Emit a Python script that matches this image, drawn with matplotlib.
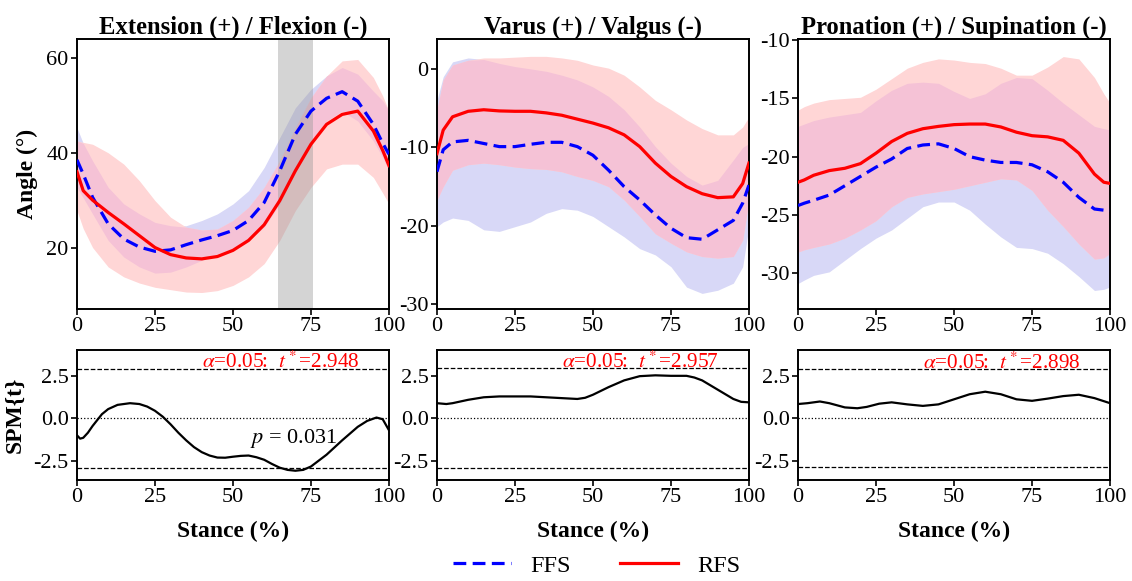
import numpy as np
import matplotlib
matplotlib.use("Agg")
import matplotlib.pyplot as plt
from matplotlib.lines import Line2D

plt.rcParams['font.family'] = ['Liberation Serif', 'DejaVu Serif']
plt.rcParams['mathtext.fontset'] = 'stix'
plt.rcParams['axes.linewidth'] = 1.4
plt.rcParams['axes.unicode_minus'] = False

# stance (%) sample points for the kinematic curves
stance = [0, 2, 5, 10, 15, 20, 25, 30, 35, 40, 45, 50, 55, 60, 65, 70, 75, 80, 85, 90, 95, 98, 100]

# Extension / Flexion
ext_ffs = [38.5, 35.5, 30.6, 25.0, 21.8, 20.1, 19.2, 19.5, 20.6, 21.6, 22.5, 23.6, 25.7, 29.5, 36.2, 43.9, 48.8, 51.5, 52.9, 50.9, 46.0, 42.0, 39.7]
ext_ffs_hi = [45.3, 42.0, 38.3, 32.7, 29.2, 27.1, 25.3, 24.6, 24.6, 25.7, 27.1, 29.2, 32.0, 36.9, 43.2, 49.5, 53.4, 56.2, 58.0, 56.6, 53.0, 51.0, 48.8]
ext_ffs_lo = [32.7, 30.5, 27.1, 21.5, 18.0, 15.9, 14.6, 14.8, 15.9, 17.3, 18.7, 19.7, 21.5, 24.3, 29.2, 36.2, 42.5, 46.7, 48.8, 46.7, 42.5, 39.0, 36.2]
ext_rfs = [36.0, 32.0, 30.0, 27.4, 25.0, 22.5, 20.0, 18.5, 17.8, 17.6, 18.1, 19.4, 21.5, 24.8, 29.9, 36.2, 41.8, 46.0, 48.1, 48.8, 44.6, 40.5, 37.3]
ext_rfs_hi = [42.5, 42.2, 41.8, 40.0, 37.6, 34.1, 29.9, 26.4, 24.3, 23.7, 23.9, 25.7, 28.5, 32.7, 38.3, 45.3, 51.6, 56.2, 59.4, 59.7, 55.9, 52.0, 48.8]
ext_rfs_lo = [27.8, 24.0, 20.0, 15.9, 13.8, 12.5, 11.6, 11.1, 10.6, 10.5, 10.9, 12.0, 13.8, 16.6, 21.5, 27.8, 32.7, 36.6, 37.6, 37.6, 34.8, 31.5, 29.2]

# Varus / Valgus
var_ffs = [-13.1, -10.3, -9.3, -9.1, -9.5, -9.9, -9.9, -9.6, -9.35, -9.35, -9.9, -11.0, -12.9, -15.0, -16.7, -18.6, -20.3, -21.5, -21.7, -20.5, -19.3, -17.1, -14.8]
var_ffs_hi = [-4.0, -1.0, 0.9, 1.4, 1.2, 0.7, 0.3, 0.0, -0.3, -0.8, -1.4, -2.3, -3.5, -5.2, -7.4, -9.9, -12.0, -13.7, -14.8, -14.2, -11.6, -10.0, -9.5]
var_ffs_lo = [-20.1, -19.5, -19.0, -19.3, -20.5, -20.7, -20.1, -19.5, -18.4, -17.8, -18.0, -18.8, -20.1, -21.4, -22.9, -23.7, -25.2, -27.8, -28.6, -28.2, -27.3, -25.2, -20.1]
var_rfs = [-10.8, -7.8, -6.1, -5.4, -5.2, -5.35, -5.4, -5.4, -5.6, -5.9, -6.4, -6.9, -7.5, -8.4, -9.9, -12.0, -13.7, -15.0, -15.9, -16.4, -16.3, -14.6, -12.0]
var_rfs_hi = [-5.2, -1.4, 0.5, 1.1, 1.4, 1.4, 1.5, 1.6, 1.6, 1.4, 1.1, 0.5, 0.1, -0.8, -2.3, -4.0, -5.2, -6.5, -7.6, -8.4, -8.4, -7.4, -6.1]
var_rfs_lo = [-16.7, -15.0, -12.9, -12.2, -12.0, -12.2, -12.5, -12.7, -12.8, -13.1, -13.7, -14.2, -15.0, -16.7, -18.8, -21.0, -22.2, -23.3, -23.9, -24.1, -23.9, -21.8, -16.7]

# Pronation / Supination
pro_ffs = [-24.2, -24.0, -23.75, -23.3, -22.5, -21.7, -20.9, -20.2, -19.3, -19.0, -18.9, -19.3, -20.0, -20.3, -20.5, -20.5, -20.7, -21.3, -22.2, -23.5, -24.5, -24.6, -24.6]
pro_ffs_hi = [-17.4, -17.2, -16.9, -16.6, -16.4, -16.2, -15.2, -14.3, -13.7, -13.6, -13.7, -14.4, -15.0, -14.6, -13.7, -13.2, -13.3, -14.3, -15.4, -16.4, -17.4, -17.6, -17.7]
pro_ffs_lo = [-30.9, -30.6, -30.2, -29.9, -28.9, -27.9, -27.0, -26.3, -25.3, -24.3, -23.9, -23.9, -24.6, -25.8, -26.9, -27.8, -27.9, -28.3, -29.2, -30.3, -31.5, -31.4, -31.2]
pro_rfs = [-22.2, -22.0, -21.6, -21.2, -21.0, -20.6, -19.7, -18.7, -18.0, -17.6, -17.4, -17.25, -17.2, -17.2, -17.45, -17.9, -18.2, -18.3, -18.6, -19.7, -21.5, -22.2, -22.3]
pro_rfs_hi = [-16.0, -15.7, -15.4, -15.1, -15.0, -14.9, -14.2, -13.3, -12.4, -11.9, -11.6, -11.7, -11.9, -12.0, -12.4, -13.0, -13.0, -12.3, -11.4, -11.6, -13.2, -14.6, -15.4]
pro_rfs_lo = [-28.2, -28.0, -27.8, -27.5, -27.0, -26.3, -25.5, -24.3, -23.5, -23.2, -23.0, -22.8, -22.5, -22.2, -21.9, -22.0, -22.9, -24.6, -26.0, -27.5, -28.8, -28.7, -28.3]

# SPM{t} curves
spm1_x = [0, 1, 2, 3.5, 5, 6.5, 8, 10, 13, 17, 20, 22.5, 25, 27.5, 30, 32.5, 35, 37.5, 40, 42.5, 45, 47.5, 50, 52.5, 55, 57.5, 60, 62.5, 65, 67.5, 70, 72.5, 75, 77.5, 80, 85, 90, 93, 96, 98, 100]
spm1_t = [-1.0, -1.2, -1.15, -0.85, -0.45, -0.1, 0.25, 0.55, 0.8, 0.9, 0.85, 0.7, 0.45, 0.1, -0.35, -0.85, -1.3, -1.7, -2.0, -2.2, -2.32, -2.33, -2.27, -2.22, -2.2, -2.3, -2.45, -2.7, -2.92, -3.05, -3.1, -3.05, -2.85, -2.5, -2.15, -1.3, -0.5, -0.15, 0.05, -0.05, -0.7]
spm2_x = [0, 3, 5, 10, 15, 20, 25, 30, 35, 40, 45, 47.5, 50, 55, 60, 65, 70, 75, 80, 82.5, 85, 90, 95, 97.5, 100]
spm2_t = [0.9, 0.85, 0.9, 1.1, 1.25, 1.3, 1.3, 1.3, 1.25, 1.2, 1.15, 1.22, 1.4, 1.85, 2.25, 2.5, 2.55, 2.52, 2.52, 2.42, 2.25, 1.7, 1.15, 0.98, 0.95]
spm3_x = [0, 3, 7, 10, 15, 19, 22, 26, 30, 35, 40, 45, 50, 55, 60, 65, 70, 75, 80, 85, 90, 95, 100]
spm3_t = [0.85, 0.9, 1.0, 0.9, 0.65, 0.6, 0.68, 0.87, 0.95, 0.83, 0.74, 0.83, 1.13, 1.43, 1.58, 1.43, 1.13, 1.04, 1.17, 1.32, 1.4, 1.2, 0.9]

titles = ['Extension (+) / Flexion (-)', 'Varus (+) / Valgus (-)', 'Pronation (+) / Supination (-)']
t_crit = [2.948, 2.957, 2.898]
sig_region = (64.5, 75.5)
p_text = '$p$ = 0.031'

kin = [
    (ext_ffs, ext_ffs_lo, ext_ffs_hi, ext_rfs, ext_rfs_lo, ext_rfs_hi),
    (var_ffs, var_ffs_lo, var_ffs_hi, var_rfs, var_rfs_lo, var_rfs_hi),
    (pro_ffs, pro_ffs_lo, pro_ffs_hi, pro_rfs, pro_rfs_lo, pro_rfs_hi),
]
spm = [(spm1_x, spm1_t), (spm2_x, spm2_t), (spm3_x, spm3_t)]
ylims = [(7, 64), (-30.6, 3.8), (-33.1, -9.9)]
yticks = [[20, 40, 60], [-30, -20, -10, 0], [-30, -25, -20, -15, -10]]

BLUE_BAND = '#d8d8f7'
RED_BAND = '#ffd6d6'
BOTH_BAND = '#f5c2d6'

fig = plt.figure(figsize=(11.32, 5.81), dpi=100)
lefts = [0.068, 0.386, 0.705]
w = 0.2756

for i in range(3):
    ax = fig.add_axes([lefts[i], 0.468, w, 0.4647])
    ffs, ffs_lo, ffs_hi, rfs, rfs_lo, rfs_hi = kin[i]
    ax.fill_between(stance, ffs_lo, ffs_hi, color=BLUE_BAND, lw=0)
    ax.fill_between(stance, rfs_lo, rfs_hi, color=RED_BAND, lw=0)
    lo = np.maximum(ffs_lo, rfs_lo)
    hi = np.minimum(ffs_hi, rfs_hi)
    ax.fill_between(stance, lo, hi, where=hi > lo, interpolate=True, color=BOTH_BAND, lw=0)
    if i == 0:
        ax.axvspan(*sig_region, color='#9a9a9a', alpha=0.42, lw=0, zorder=2.5)
    ax.plot(stance, ffs, color='blue', ls=(0, (4, 2)), lw=2.3, zorder=3)
    ax.plot(stance, rfs, color='red', lw=2.3, zorder=3)
    ax.set_xlim(0, 100)
    ax.set_ylim(*ylims[i])
    ax.set_xticks([0, 25, 50, 75, 100])
    ax.set_yticks(yticks[i])
    ax.tick_params(labelsize=16, length=4, width=1.2, pad=2)
    ax.set_title(titles[i], fontsize=17.7, fontweight='bold', pad=4)
    if i == 0:
        ax.set_ylabel('Angle (°)', fontsize=17, fontweight='bold', labelpad=6)

    bx = fig.add_axes([lefts[i], 0.1738, w, 0.2238])
    bx.plot(spm[i][0], spm[i][1], color='black', lw=1.6)
    bx.axhline(t_crit[i], color='black', ls='--', lw=0.9)
    bx.axhline(-t_crit[i], color='black', ls='--', lw=0.9)
    bx.axhline(0, color='black', ls=':', lw=0.9)
    bx.text(40, t_crit[i] + 0.03, r'$\alpha$=0.05:  $t^*$=%.3f' % t_crit[i],
            color='red', fontsize=15.3, va='baseline', ha='left')
    if i == 0:
        bx.text(69.5, -1.2, p_text, fontsize=16, ha='center', va='center')
        bx.set_ylabel('SPM{t}', fontsize=17, fontweight='bold', labelpad=6)
    bx.set_xlim(0, 100)
    bx.set_ylim(-3.65, 4.05)
    bx.set_xticks([0, 25, 50, 75, 100])
    bx.set_yticks([-2.5, 0.0, 2.5])
    bx.tick_params(labelsize=16, length=4, width=1.2, pad=2)
    bx.set_xlabel('Stance (%)', fontsize=17, fontweight='bold', labelpad=10)

handles = [Line2D([], [], color='blue', ls=(0, (4, 2)), lw=2.3),
           Line2D([], [], color='red', lw=2.3)]
fig.legend(handles, ['FFS', 'RFS'], loc='center', bbox_to_anchor=(0.527, 0.026),
           ncol=2, frameon=False, fontsize=17.5, handlelength=2.4, columnspacing=2.0)

fig.savefig('out.png', dpi=100)
